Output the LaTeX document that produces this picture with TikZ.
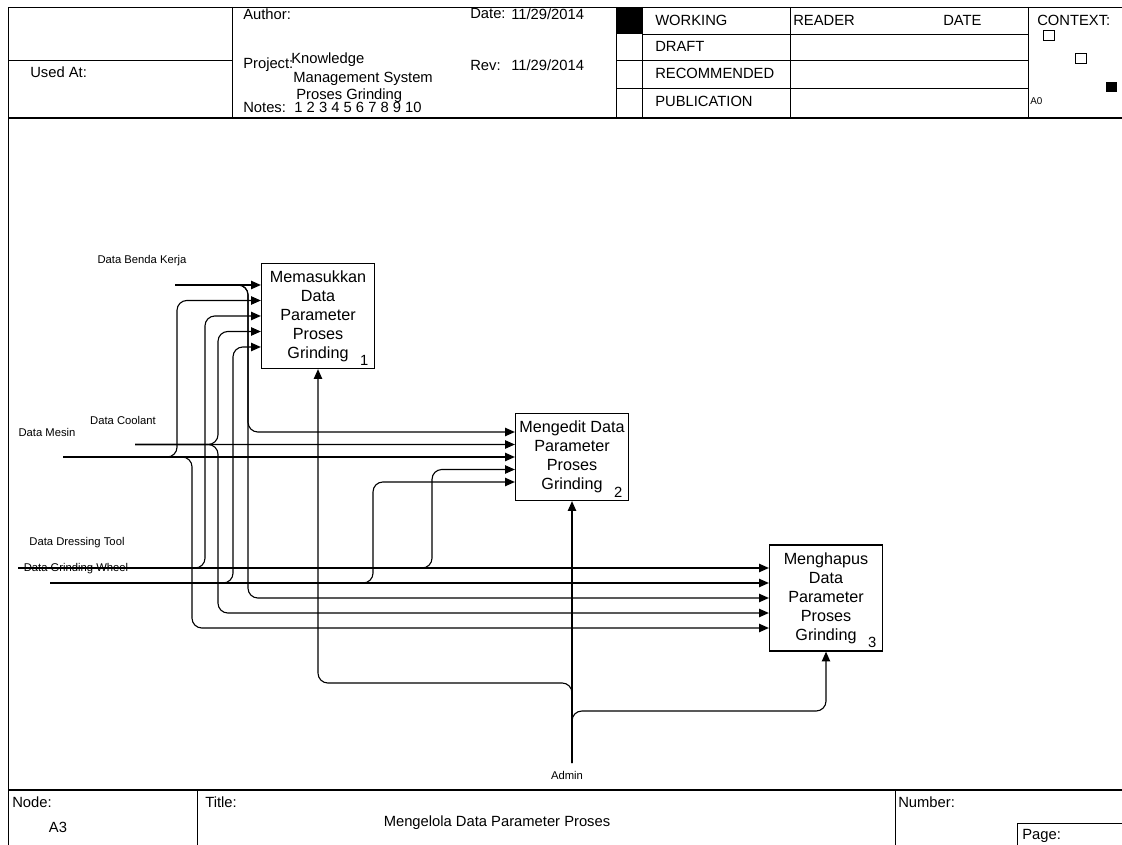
\documentclass[tikz,border=0pt]{standalone}
\usepackage{fontspec}
\setmainfont{Liberation Sans}
\usetikzlibrary{arrows.meta,calc}
\begin{document}
\begin{tikzpicture}[x=0.025cm,y=-0.025cm, >={Triangle[length=7pt,width=6pt]},
    every node/.style={font=\fontsize{10.5}{12}\selectfont, inner sep=0pt},
    hdr/.style={anchor=west},
    box/.style={draw, line width=0.9pt, minimum width=2.825cm, align=center,
      font=\fontsize{11.5}{13.5}\selectfont},
    lbl/.style={font=\fontsize{8}{9}\selectfont},
    flow/.style={->, line width=0.8pt, rounded corners=7pt}]
    \useasboundingbox (0,0) rectangle (1122,845);
    % frame
    \draw[line width=0.7pt] (8,7) rectangle (1140,860);
    \draw[line width=1.3pt] (8,118) -- (1140,118);
    \draw[line width=1.3pt] (8,790) -- (1140,790);
    % header
    \draw (232,7) -- (232,118);
    \draw (8,60) -- (232,60);
    \draw (616,7) -- (616,118);
    \draw (642,7) -- (642,118);
    \draw (790,7) -- (790,118);
    \draw (1028,7) -- (1028,118);
    \draw (642,34) -- (1028,34);
    \draw (616,60) -- (1028,60);
    \draw (616,88) -- (1028,88);
    \fill (616,7) rectangle (642,34);
    \node[hdr] (usedat) at (30,72) {Used At:};
    \node[hdr] (author) at (243,14) {Author:};
    \node[hdr] (date) at (470,14) {Date:};
    \node[hdr] (dateval) at (511,14) {11/29/2014};
    \node[hdr] (project) at (243,65) {Project:};
    \node[hdr] (proj1) at (291,60) {Knowledge};
    \node[hdr] (proj2) at (293,79) {Management System};
    \node[hdr] (proj3) at (296,96) {Proses Grinding};
    \node[hdr] (rev) at (470,65) {Rev:};
    \node[hdr] (revval) at (511,65) {11/29/2014};
    \node[hdr] (notes) at (243,107) {Notes:\hspace{6pt}1 2 3 4 5 6 7 8 9 10};
    \node[hdr] (working) at (655,20) {WORKING};
    \node[hdr] (draft) at (655,46) {DRAFT};
    \node[hdr] (recom) at (655,73) {RECOMMENDED};
    \node[hdr] (publ) at (655,101) {PUBLICATION};
    \node[hdr] (reader) at (793,20) {READER};
    \node[hdr] (rdate) at (943,20) {DATE};
    \node[hdr] (context) at (1037,20) {CONTEXT:};
    \draw (1043,30) rectangle (1054,40);
    \draw (1075,53) rectangle (1086,63);
    \fill (1106,82) rectangle (1117,92);
    \node[hdr, font=\fontsize{7}{8}\selectfont] (azero) at (1030,101) {A0};
    % footer
    \draw (197,790) -- (197,860);
    \draw (895,790) -- (895,860);
    \draw (1017,823) rectangle (1140,860);
    \node[hdr] (nodelbl) at (12,802) {Node:};
    \node (nodeval) at (58,827) {A3};
    \node[hdr] (titlelbl) at (205,802) {Title:};
    \node (titleval) at (497,823) {Mengelola Data Parameter Proses};
    \node[hdr] (numlbl) at (898,802) {Number:};
    \node[hdr] (pagelbl) at (1022,836) {Page:};
    % activities
    \node[box, minimum height=2.625cm] (b1) at (318,316)
      {Memasukkan\\Data\\Parameter\\Proses\\Grinding};
    \node[box, minimum height=2.175cm] (b2) at (572,457)
      {Mengedit Data\\Parameter\\Proses\\Grinding};
    \node[box, minimum height=2.65cm] (b3) at (826,598)
      {Menghapus\\Data\\Parameter\\Proses\\Grinding};
    \node (n1) at ($(b1.south east)+(-11,-9)$) {1};
    \node (n2) at ($(b2.south east)+(-11,-9)$) {2};
    \node (n3) at ($(b3.south east)+(-11,-9)$) {3};
    \foreach \n/\d in {1/-31,2/-15.5,3/0,4/15.5,5/31}
      \coordinate (b1i\n) at ($(b1.west)+(0,\d)$);
    \foreach \n/\d in {1/-25,2/-12.5,3/0,4/12.5,5/25}
      \coordinate (b2i\n) at ($(b2.west)+(0,\d)$);
    \foreach \n/\d in {1/-30,2/-15,3/0,4/15,5/30}
      \coordinate (b3i\n) at ($(b3.west)+(0,\d)$);
    % inputs
    \coordinate (dbk) at (175,285);
    \coordinate (dm) at (63,457);
    \coordinate (dc) at (135,444.5);
    \coordinate (ddt) at (18,568);
    \coordinate (dgw) at (50,583);
    \node[lbl] (lbk) at (142,261) {Data Benda Kerja};
    \node[lbl] (lm) at (47,432) {Data Mesin};
    \node[lbl] (lc) at (123,420) {Data Coolant};
    \node[lbl] (ldt) at (77,543) {Data Dressing Tool};
    \node[lbl] (lgw) at (76,569) {Data Grinding Wheel};
    \draw[flow] (dbk) -- (b1i1);
    \draw[flow] (dbk) -- (248,285) -- (248,432) -- (b2i1);
    \draw[flow] (dbk) -- (248,285) -- (248,598) -- (b3i3);
    \draw[flow] (dm) -- (b2i3);
    \draw[flow] (dm) -- (177,457) -- (177,300.5) -- (b1i2);
    \draw[flow] (dm) -- (192,457) -- (192,628) -- (b3i5);
    \draw[flow] (dc) -- (b2i2);
    \draw[flow] (dc) -- (218,444.5) -- (218,331.5) -- (b1i4);
    \draw[flow] (dc) -- (218,444.5) -- (218,613) -- (b3i4);
    \draw[flow] (ddt) -- (b3i1);
    \draw[flow] (ddt) -- (205,568) -- (205,316) -- (b1i3);
    \draw[flow] (ddt) -- (432,568) -- (432,469.5) -- (b2i4);
    \draw[flow] (dgw) -- (b3i2);
    \draw[flow] (dgw) -- (233,583) -- (233,347) -- (b1i5);
    \draw[flow] (dgw) -- (373,583) -- (373,482) -- (b2i5);
    % mechanism
    \coordinate (admin) at (572,763);
    \node[lbl] (ladmin) at (567,775) {Admin};
    \draw[flow] (admin) -- (b2.south);
    \draw[flow] (admin) -- (572,683) -- (318,683) -- (b1.south);
    \draw[flow] (admin) -- (572,711) -- (826,711) -- (b3.south);
\end{tikzpicture}
\end{document}
